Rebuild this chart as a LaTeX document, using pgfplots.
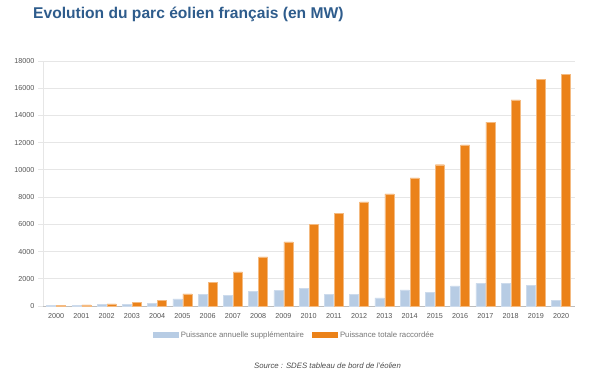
\documentclass[border=0pt]{standalone}
\usepackage{pgfplots}
\pgfplotsset{compat=1.18}
\usepackage{fontspec}
\setmainfont{Liberation Sans}
\definecolor{titleblue}{HTML}{2E5C8C}
\definecolor{barblue}{HTML}{B7CCE4}
\definecolor{barorange}{HTML}{EB8219}
\definecolor{ticktext}{HTML}{555555}
\definecolor{gridgray}{HTML}{E6E6E6}
\begin{document}
\begin{tikzpicture}[x=1pt,y=1pt]
\useasboundingbox (0,0) rectangle (593,380);
\node[anchor=base west, font=\bfseries\fontsize{15.6}{18}\selectfont, text=titleblue, inner sep=0] at (33,361) {Evolution du parc éolien français (en MW)};
\begin{axis}[
  at={(43pt,74pt)}, anchor=south west,
  scale only axis, width=532pt, height=245pt,
  xmin=1999.48, xmax=2020.55,
  ymin=0, ymax=18000,
  ytick={0,2000,...,18000},
  xtick={2000,...,2020},
  scaled y ticks=false,
  /pgf/number format/1000 sep={},
  /pgf/number format/assume math mode=true,
  ticklabel style={font=\fontsize{7.2}{8}\selectfont, text=ticktext},
  xticklabel style={yshift=1pt},
  yticklabel style={xshift=0pt},
  xtick style={draw=none},
  ytick style={draw=gridgray, line width=0.8pt},
  tick align=outside, major tick length=5pt,
  ymajorgrids, grid style={gridgray, line width=0.8pt},
  axis x line*=bottom, axis y line*=left,
  x axis line style={draw=gridgray!60!gray, line width=0.8pt, -},
  y axis line style={draw=gridgray, line width=0.8pt, -},
  ybar, bar width=9pt,
  legend style={at={(0.4727,-0.087)}, anchor=north, draw=none, legend columns=2,
    font=\fontsize{7.8}{9}\selectfont, text=ticktext!80!white,
    /tikz/every even column/.append style={column sep=6pt}},
  legend image code/.code={\draw[#1, draw=none] (0pt,-3pt) rectangle (26pt,3pt);},
]
\addplot[fill=barblue, draw=barblue!70!white, line width=0.4pt, bar shift=-5pt] coordinates {
(2000,50) (2001,30) (2002,120) (2003,110) (2004,170) (2005,520) (2006,860) (2007,790) (2008,1080) (2009,1130) (2010,1280) (2011,840) (2012,840) (2013,590) (2014,1180) (2015,980) (2016,1475) (2017,1670) (2018,1670) (2019,1525) (2020,390)};
\addlegendentry{Puissance annuelle supplémentaire}
\addplot[fill=barorange, draw=barorange!55!white, line width=0.4pt, bar shift=5pt] coordinates {
(2000,70) (2001,90) (2002,150) (2003,270) (2004,420) (2005,885) (2006,1720) (2007,2510) (2008,3615) (2009,4720) (2010,6000) (2011,6810) (2012,7650) (2013,8240) (2014,9420) (2015,10380) (2016,11830) (2017,13500) (2018,15150) (2019,16650) (2020,17020)};
\addlegendentry{Puissance totale raccordée}
\end{axis}
\node[font=\itshape\fontsize{7.8}{9}\selectfont, text=ticktext!90!black, anchor=base] at (327.5,11.5) {Source : SDES tableau de bord de l'éolien};
\end{tikzpicture}
\end{document}
